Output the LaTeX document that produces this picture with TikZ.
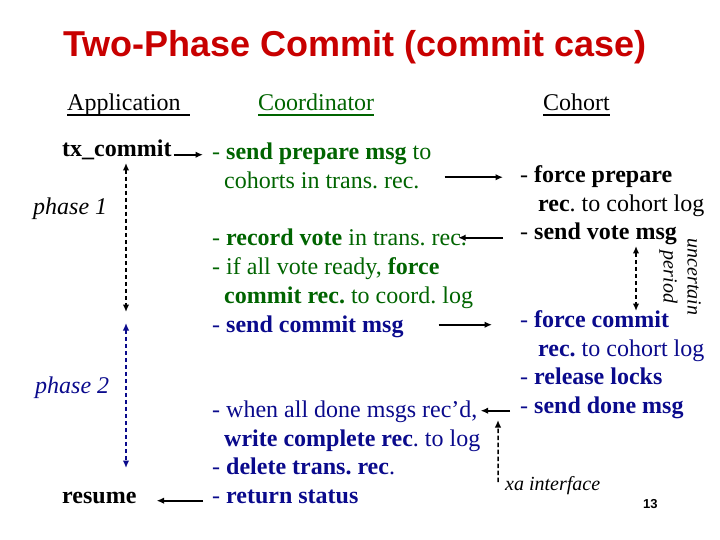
\documentclass[tikz,border=0pt]{standalone}
\usepackage{fontspec}
\setmainfont{Liberation Serif}
\newfontfamily\titlefont{Liberation Sans}
\usetikzlibrary{calc}
\usetikzlibrary{arrows.meta}
\tikzset{>={Latex[width=6.5bp,length=7.5bp]}}
\definecolor{titlered}{RGB}{200,0,0}
\definecolor{crdgreen}{RGB}{0,100,0}
\definecolor{commitblue}{RGB}{10,10,140}
\frenchspacing

\begin{document}
\begin{tikzpicture}[
    x = 1bp, y = -1bp,
    txt/.style = {anchor=base west, inner sep=0mm,
        font=\fontsize{24bp}{28.8bp}\selectfont},
    small/.style = {inner sep=0mm,
        font=\fontsize{20bp}{24bp}\selectfont\itshape},
    uline/.style = {line width=1.6bp},
    arr/.style = {->, line width=1.7bp},
    dash line/.style = {line width=1.5bp, dash pattern=on 4.5bp off 2.5bp}
  ]
  \useasboundingbox (0,0) rectangle (720,540);

  % title and column heads
  \node[anchor=base, inner sep=0mm, text=titlered,
      font=\titlefont\bfseries\fontsize{36bp}{40bp}\selectfont] (title) at (355,57)
      {Two-Phase Commit (commit case)};
  \node[txt] (apphead) at (67,111) {Application};
  \node[txt, text=crdgreen] (crdhead) at (258,111) {Coordinator};
  \node[txt] (cohhead) at (543,111) {Cohort};
  \draw[uline] ([yshift=-4bp]apphead.base west) -- ([xshift=9bp,yshift=-4bp]apphead.base east);
  \draw[uline, crdgreen] ([yshift=-4bp]crdhead.base west) -- ([yshift=-4bp]crdhead.base east);
  \draw[uline] ([yshift=-4bp]cohhead.base west) -- ([yshift=-4bp]cohhead.base east);

  % application side
  \node[txt] (tx) at (62,157) {\textbf{tx\_commit}};
  \node[txt] (ph1) at (33,215) {\textit{phase 1}};
  \node[txt, text=commitblue] (ph2) at (35,393) {\textit{phase 2}};
  \node[txt] (res) at (62,503) {\textbf{resume}};
  \coordinate (p1s) at (126,163);
  \coordinate (p1e) at (126,312);
  \coordinate (p2s) at (126,323);
  \coordinate (p2e) at (126,468);
  \draw[dash line, <->] (p1s) -- (p1e);
  \draw[dash line, <->, commitblue] (p2s) -- (p2e);

  % coordinator
  \foreach \y/\words [count=\i] in {
      160/{- \textbf{send prepare msg} to},
      189/{\hspace*{12bp}cohorts in trans. rec.},
      246/{- \textbf{record vote} in trans. rec.},
      275/{- if all vote ready, \textbf{force}},
      303/{\hspace*{12bp}\textbf{commit rec.} to coord. log},
      332/{\color{commitblue}- \textbf{send commit msg}}}
    \node[txt, text=crdgreen] (crd\i) at (212,\y) {\words};
  \foreach \y/\words [count=\i from 7] in {
      417/{- when all done msgs rec’d,},
      446/{\hspace*{12bp}\textbf{write complete rec}. to log},
      474/{- \textbf{delete trans. rec}.},
      503/{- \textbf{return status}}}
    \node[txt, text=commitblue] (crd\i) at (212,\y) {\words};

  % cohort
  \foreach \y/\words [count=\i] in {
      183/{- \textbf{force prepare}},
      212/{\hspace*{18bp}\textbf{rec}. to cohort log},
      240/{- \textbf{send vote msg}}}
    \node[txt] (coh\i) at (520,\y) {\words};
  \foreach \y/\words [count=\i from 4] in {
      327/{- \textbf{force commit}},
      356/{\hspace*{18bp}\textbf{rec.} to cohort log},
      384/{- \textbf{release locks}},
      413/{- \textbf{send done msg}}}
    \node[txt, text=commitblue] (coh\i) at (520,\y) {\words};

  \node[small, rotate=-90, align=center] (unc) at (680,277) {uncertain\\period};
  \coordinate (u1) at (636,246);
  \coordinate (u2) at (636,311);
  \draw[dash line, <->] (u1) -- (u2);

  \node[small, anchor=base west] (xa) at (505,490) {xa interface};
  \coordinate (xatip) at (498,420);
  \draw[dash line, ->] ([xshift=-7bp,yshift=8bp]xa.base west) -- (xatip);

  \node[anchor=base west, inner sep=0mm,
      font=\titlefont\bfseries\fontsize{13bp}{15bp}\selectfont] (pgno) at (643,508) {13};

  % messages
  \draw[arr, shorten <=2bp, shorten >=9bp] (tx.mid east) -- (tx.mid east -| crd1.west);
  \draw[arr, shorten <=9bp, shorten >=20bp] (crd10.mid west) -- (crd10.mid west -| res.east);
  \draw[arr, shorten <=25bp, shorten >=17bp, transform canvas={yshift=3.5bp}]
      (crd2.east |- coh1.mid west) -- (coh1.mid west);
  \draw[arr, shorten <=17bp, shorten >=-9bp] (coh3.mid west) -- (coh3.mid west -| crd3.east);
  \draw[arr, shorten <=35bp, shorten >=28bp] (crd6.east |- coh4.mid west) -- (coh4.mid west);
  \draw[arr, shorten <=10bp, shorten >=3bp] (coh7.mid west) -- (coh7.mid west -| crd7.east);
\end{tikzpicture}
\end{document}
